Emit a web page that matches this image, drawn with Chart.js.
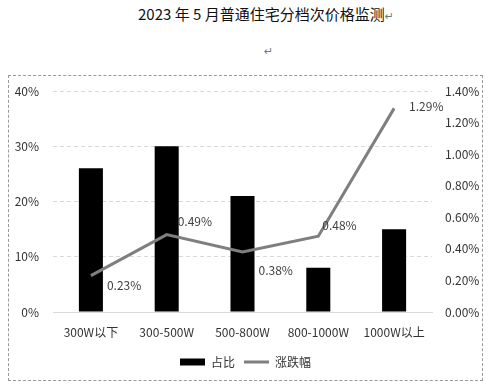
<!DOCTYPE html>
<html>
<head>
<meta charset="utf-8">
<script src="https://cdn.jsdelivr.net/npm/chart.js@4/dist/chart.umd.min.js"></script>
<style>
  html,body{margin:0;padding:0;background:#fff;width:490px;height:384px;overflow:hidden;}
  body{position:relative;font-family:"Noto Sans CJK SC","Noto Sans",sans-serif;}
  #title{position:absolute;left:0;width:490px;top:3px;text-align:center;font-size:15px;color:#111;white-space:nowrap;padding-left:42px;box-sizing:border-box;}
  #title .rm{color:#777;font-size:11px;font-family:"DejaVu Sans",sans-serif;}
  #mark{position:absolute;left:264px;top:45px;color:#777;font-size:11px;font-family:"DejaVu Sans",sans-serif;}
  #box{position:absolute;left:8px;top:75px;width:473px;height:304px;border:1px dashed #999;}
  #box canvas{display:block;}
</style>
</head>
<body>
<div id="title">2023 年 5 月普通住宅分档次价格监测<span class="rm">↵</span></div>
<div id="mark">↵</div>
<div id="box"><canvas id="c" width="473" height="304"></canvas></div>
<script>
const categories = ["300W以下", "300-500W", "500-800W", "800-1000W", "1000W以上"];
const shareValues = [26, 30, 21, 8, 15];          // 占比 (%)
const changeValues = [0.23, 0.49, 0.38, 0.48, 1.29]; // 涨跌幅 (%)
const leftTicks = [0, 10, 20, 30, 40];
const rightTicks = [0, 0.2, 0.4, 0.6, 0.8, 1.0, 1.2, 1.4];

const FONT = '"Noto Sans CJK SC", "Noto Sans", sans-serif';
const labelOffsets = [[16, 10], [11, -13], [16, 18], [4, -11], [15, -2]];

const lineLabels = {
  id: 'lineLabels',
  afterDatasetsDraw(chart) {
    const meta = chart.getDatasetMeta(1);
    const ctx = chart.ctx;
    ctx.save();
    ctx.font = '12px ' + FONT;
    ctx.fillStyle = '#404040';
    ctx.textAlign = 'left';
    ctx.textBaseline = 'middle';
    meta.data.forEach((pt, i) => {
      const v = chart.data.datasets[1].data[i];
      const o = labelOffsets[i];
      ctx.fillText(v.toFixed(2) + '%', pt.x + o[0], pt.y + o[1]);
    });
    ctx.restore();
  }
};

new Chart(document.getElementById('c'), {
  data: {
    labels: categories,
    datasets: [
      {
        type: 'bar', label: '占比', data: shareValues, yAxisID: 'y',
        backgroundColor: '#000', borderColor: '#000', borderWidth: 0,
        categoryPercentage: 1, barPercentage: 0.317, order: 2, pointStyle: 'rect'
      },
      {
        type: 'line', label: '涨跌幅', data: changeValues, yAxisID: 'y1',
        borderColor: '#7f7f7f', backgroundColor: '#7f7f7f', borderWidth: 3,
        pointRadius: 0, tension: 0, order: 1, pointStyle: 'line'
      }
    ]
  },
  options: {
    responsive: false,
    animation: false,
    layout: { padding: { top: 15, left: 0, right: 0, bottom: 2 } },
    plugins: {
      tooltip: { enabled: false },
      legend: {
        position: 'bottom',
        labels: {
          font: { size: 12, family: FONT }, color: '#333',
          usePointStyle: true, pointStyleWidth: 25, boxHeight: 7,
          padding: 9,
          sort: (a, b) => a.datasetIndex - b.datasetIndex
        }
      }
    },
    scales: {
      x: {
        grid: { display: false },
        border: { color: '#d9d9d9', width: 1 },
        ticks: { font: { size: 12, family: FONT }, color: '#333', padding: 5, maxRotation: 0 },
        afterFit(s) { s.height = 35; }
      },
      y: {
        position: 'left', min: 0, max: 40,
        afterBuildTicks(s) { s.ticks = leftTicks.map(v => ({ value: v })); },
        ticks: { font: { size: 12, family: FONT }, color: '#333', padding: 14, callback: v => v + '%' },
        grid: { color: '#d9d9d9', drawTicks: false, tickLength: 0 },
        border: { display: false, dash: [4, 3] },
        afterFit(s) { s.width = 44; s.paddingTop = 0; s.paddingBottom = 0; }
      },
      y1: {
        position: 'right', min: 0, max: 1.4,
        afterBuildTicks(s) { s.ticks = rightTicks.map(v => ({ value: v })); },
        ticks: { font: { size: 12, family: FONT }, color: '#333', padding: 13, callback: v => v.toFixed(2) + '%' },
        grid: { display: false, drawTicks: false },
        border: { display: false },
        afterFit(s) { s.width = 50; s.paddingTop = 0; s.paddingBottom = 0; }
      }
    }
  },
  plugins: [lineLabels]
});
</script>
</body>
</html>
